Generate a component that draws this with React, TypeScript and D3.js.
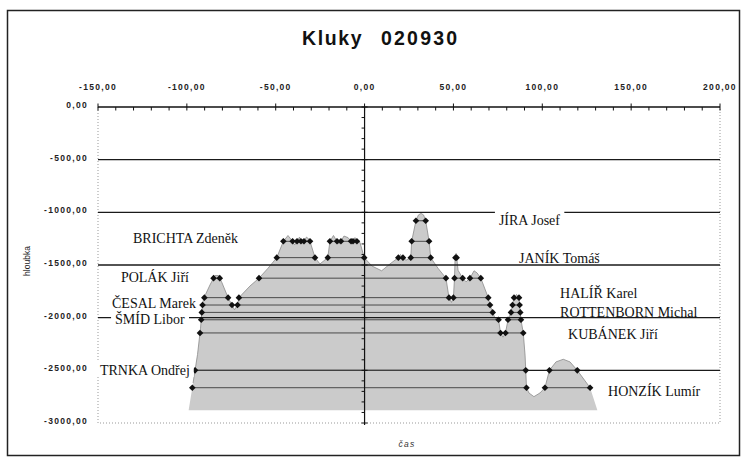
import { useEffect, useRef } from 'react';
import * as d3 from 'd3';

const titleWords = ['Kluky', '020930'];
const xTicks = [-150, -100, -50, 0, 50, 100, 150, 200];
const yTicks = [0, -500, -1000, -1500, -2000, -2500, -3000];

// outline of the grey profile: [čas, hloubka]
const profile: [number, number][] = [
  [-99, -2880], [-96.5, -2620], [-94, -2350], [-92.3, -2100], [-91.6, -1950], [-91, -1850], [-89.5, -1780],
  [-87, -1690], [-84.2, -1600], [-82.2, -1600], [-80.2, -1670], [-76.8, -1810], [-74.6, -1880], [-73.2, -1925],
  [-71.5, -1880], [-70.7, -1810], [-64.5, -1700], [-59.4, -1625], [-54.3, -1530], [-49.4, -1430], [-45.7, -1275],
  [-43.1, -1220], [-40.5, -1275], [-39.4, -1310], [-38, -1275], [-36.6, -1235], [-35.8, -1275], [-34.9, -1290],
  [-34.1, -1275], [-32.7, -1235], [-31.3, -1255], [-30.7, -1275], [-27.9, -1430], [-25.1, -1490], [-20.7, -1430],
  [-19.5, -1275], [-17.5, -1220], [-15.5, -1275], [-14.4, -1300], [-13.3, -1275], [-11.6, -1225], [-9.3, -1240],
  [-7.6, -1275], [-7.1, -1290], [-6.5, -1275], [-5.4, -1240], [-4.3, -1275], [-2.6, -1285], [-0.2, -1430],
  [4.2, -1510], [9.6, -1555], [14.3, -1490], [19, -1430], [20.2, -1400], [21.6, -1430], [23.3, -1455],
  [26, -1430], [26.5, -1275], [28.9, -1080], [30.3, -1025], [31.8, -1010], [33.2, -1025], [34.4, -1080],
  [36.3, -1275], [37.2, -1430], [41.3, -1530], [45.8, -1625], [47.5, -1810], [48.9, -1855], [50, -1810],
  [50.6, -1625], [50.9, -1455], [51.5, -1390], [52, -1455], [52.6, -1550], [55.2, -1625], [57.1, -1660],
  [59.3, -1625], [61.6, -1555], [63.3, -1575], [65.4, -1625], [69.6, -1810], [70.6, -1880], [72.1, -1950],
  [73.4, -2005], [75.4, -2020], [76.5, -2145], [77.9, -2185], [79.3, -2145], [80.7, -2020], [82.4, -1950],
  [84.1, -1810], [85.5, -1780], [86.9, -1810], [87.6, -1950], [88, -2020], [89.3, -2145], [90.3, -2355],
  [90.7, -2500], [91.1, -2665], [92.5, -2715], [95.3, -2750], [98.7, -2715], [101.5, -2665], [104, -2500],
  [107.7, -2420], [111.8, -2395], [115.6, -2420], [119.7, -2500], [126.9, -2665], [131, -2880],
];
const profileBase = -2880;

const names = ['JÍRA Josef', 'BRICHTA Zdeněk', 'JANÍK Tomáš', 'POLÁK Jiří', 'HALÍŘ Karel', 'ČESAL Marek',
  'ROTTENBORN Michal', 'ŠMÍD Libor', 'KUBÁNEK Jiří', 'TRNKA Ondřej', 'HONZÍK Lumír'];
const depths = [-1080, -1275, -1430, -1625, -1810, -1880, -1950, -2020, -2145, -2500, -2665];
// where each name is written: [čas of left edge, hloubka of middle]
const labelAt: [number, number][] = [
  [75.6, -1073], [-130.3, -1241], [86.9, -1436], [-137.1, -1611], [110, -1765], [-142.1, -1864],
  [110, -1945], [-140.4, -2015], [114.5, -2155], [-148.9, -2497], [137, -2693],
];
const boxedNames = ['JÍRA Josef', 'ŠMÍD Libor', 'TRNKA Ondřej'];

const App = () => {
  const ref = useRef<SVGSVGElement>(null);

  useEffect(() => {
    const svg = d3.select(ref.current);
    svg.selectAll('*').remove();

    const x = d3.scaleLinear().domain([-150, 200]).range([98, 720]);
    const y = d3.scaleLinear().domain([0, -3000]).range([107, 423]);
    const fmt = d3.formatLocale({ decimal: ',', thousands: '', grouping: [3], currency: ['', ''], minus: '-' }).format('.2f');
    const sans = '"Liberation Sans", Arial, sans-serif';
    const serif = '"Liberation Serif", "Times New Roman", serif';

    // outer frame
    svg.append('rect')
      .attr('x', 7.5).attr('y', 10.5).attr('width', 732).attr('height', 445)
      .attr('fill', '#fff').attr('stroke', '#222').attr('stroke-width', 1.5);

    // title
    svg.append('text').text(titleWords[0])
      .attr('x', 302).attr('y', 45)
      .attr('font-family', sans).attr('font-weight', 'bold').attr('font-size', 19.5)
      .attr('letter-spacing', 1.6).attr('fill', '#111');
    svg.append('text').text(titleWords[1])
      .attr('x', 381).attr('y', 45)
      .attr('font-family', sans).attr('font-weight', 'bold').attr('font-size', 19.5)
      .attr('letter-spacing', 2.2).attr('fill', '#111');

    // dotted plot border
    svg.append('path')
      .attr('d', `M${x(-150)},${y(0)}V${y(-3000)}H${x(200)}V${y(0)}`)
      .attr('fill', 'none').attr('stroke', '#999').attr('stroke-dasharray', '1,2');

    // grey profile
    const area = d3.area<[number, number]>().x(d => x(d[0])).y0(y(profileBase)).y1(d => y(d[1]));
    svg.append('path').datum(profile).attr('d', area).attr('fill', '#cbcbcb');
    const line = d3.line<[number, number]>().x(d => x(d[0])).y(d => y(d[1]));
    svg.append('path').datum(profile.slice(1, -1)).attr('d', line)
      .attr('fill', 'none').attr('stroke', '#8a8a8a').attr('stroke-width', 0.8);

    // gridlines
    svg.selectAll('.grid')
      .data(yTicks.filter(v => v !== 0 && v !== -3000))
      .enter().append('line')
      .attr('x1', x(-150)).attr('x2', x(200))
      .attr('y1', d => y(d)).attr('y2', d => y(d))
      .attr('stroke', '#1a1a1a').attr('stroke-width', 1.3);

    // level lines of each name, cut where they leave the grey profile
    const diamond = d3.symbol().type(d3.symbolDiamond2).size(28);
    depths.forEach(level => {
      const xs: number[] = [];
      for (let i = 0; i < profile.length - 1; i++) {
        const a = profile[i], b = profile[i + 1];
        if ((a[1] > level) !== (b[1] > level)) {
          const t = (level - a[1]) / (b[1] - a[1]);
          xs.push(a[0] + t * (b[0] - a[0]));
        }
      }
      for (let i = 0; i + 1 < xs.length; i += 2) {
        svg.append('line')
          .attr('x1', x(xs[i])).attr('x2', x(xs[i + 1]))
          .attr('y1', y(level)).attr('y2', y(level))
          .attr('stroke', '#4a4a4a').attr('stroke-width', 1);
      }
      svg.selectAll(null).data(xs).enter().append('path')
        .attr('d', diamond)
        .attr('transform', d => `translate(${x(d)},${y(level)})`)
        .attr('fill', '#111');
    });

    // top axis
    svg.append('line')
      .attr('x1', x(-150)).attr('x2', x(200)).attr('y1', y(0)).attr('y2', y(0))
      .attr('stroke', '#111').attr('stroke-width', 1.5);
    svg.selectAll(null).data(d3.range(-150, 201, 10)).enter().append('line')
      .attr('x1', d => x(d)).attr('x2', d => x(d))
      .attr('y1', d => (d % 50 === 0 ? y(0) - 3.5 : y(0)))
      .attr('y2', y(0) + 3.5)
      .attr('stroke', '#111').attr('stroke-width', 1);
    svg.selectAll(null).data(xTicks).enter().append('text')
      .text(d => fmt(d))
      .attr('x', d => x(d)).attr('y', 89.5)
      .attr('text-anchor', 'middle')
      .attr('font-family', sans).attr('font-weight', 'bold').attr('font-size', 8.5)
      .attr('letter-spacing', 1.3).attr('fill', '#222');

    // vertical axis at čas 0
    svg.append('line')
      .attr('x1', x(0)).attr('x2', x(0)).attr('y1', y(0)).attr('y2', y(-3000) + 2)
      .attr('stroke', '#111').attr('stroke-width', 1.2);
    svg.selectAll(null).data(d3.range(0, -3001, -100)).enter().append('line')
      .attr('x1', x(0) - 3).attr('x2', d => (d % 500 === 0 ? x(0) + 3 : x(0)))
      .attr('y1', d => y(d)).attr('y2', d => y(d))
      .attr('stroke', '#111').attr('stroke-width', 1);
    svg.selectAll(null).data(yTicks).enter().append('text')
      .text(d => fmt(d))
      .attr('x', 88).attr('y', d => y(d) + 1)
      .attr('text-anchor', 'end')
      .attr('font-family', sans).attr('font-weight', 'bold').attr('font-size', 8.5)
      .attr('letter-spacing', 1.3).attr('fill', '#222');

    // axis titles
    svg.append('text').text('hloubka')
      .attr('transform', 'translate(30,261) rotate(-90)')
      .attr('text-anchor', 'middle')
      .attr('font-family', sans).attr('font-size', 8.5).attr('fill', '#222');
    svg.append('text').text('čas')
      .attr('x', 407).attr('y', 447)
      .attr('text-anchor', 'middle')
      .attr('font-family', sans).attr('font-style', 'italic').attr('font-size', 8.5)
      .attr('letter-spacing', 1.2).attr('fill', '#333');

    // names
    names.forEach((name, i) => {
      const g = svg.append('g');
      const t = g.append('text').text(name)
        .attr('x', x(labelAt[i][0])).attr('y', y(labelAt[i][1]))
        .attr('dy', '0.35em')
        .attr('font-family', serif).attr('font-size', 14).attr('fill', '#111');
      if (boxedNames.includes(name)) {
        const b = (t.node() as SVGTextElement).getBBox();
        g.insert('rect', 'text')
          .attr('x', b.x - 4).attr('y', b.y - 3)
          .attr('width', b.width + 8).attr('height', b.height + 2)
          .attr('fill', '#fff');
      }
    });
  }, []);

  return (
    <svg ref={ref} width={744} height={464}
      style={{ position: 'absolute', left: 0, top: 0, background: '#fff' }} />
  );
};

export default App;
